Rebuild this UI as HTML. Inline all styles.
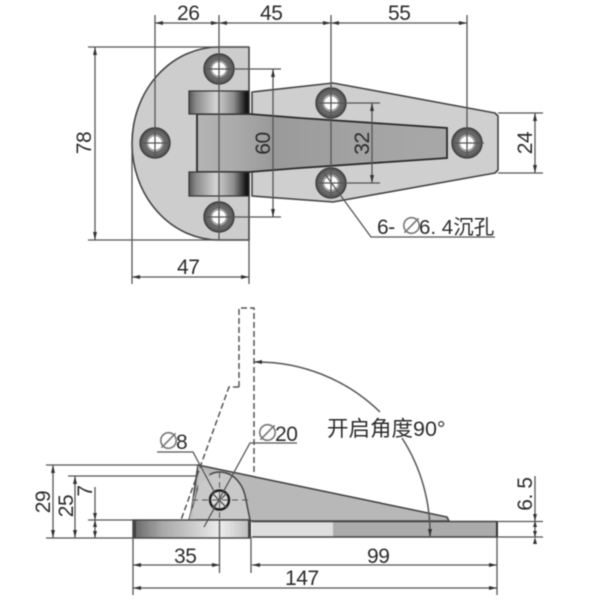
<!DOCTYPE html>
<html>
<head>
<meta charset="utf-8">
<style>
html,body{margin:0;padding:0;background:#fff;width:600px;height:600px;overflow:hidden}
svg{display:block;filter:blur(0.45px)}
text{font-family:"Liberation Sans","Noto Sans CJK SC",sans-serif;fill:#2c2c2c;font-size:21px;letter-spacing:-.4px}
.d{stroke:#555;stroke-width:1.3;fill:none}
.o{stroke:#444;stroke-width:1.6;stroke-linejoin:round}
.da{stroke:#555;stroke-width:1.5;fill:none;stroke-dasharray:6 3}
.p{fill:#777;font-size:23px}
</style>
</head>
<body>
<svg width="600" height="600" viewBox="0 0 600 600" xmlns="http://www.w3.org/2000/svg">
<defs>
<linearGradient id="kn" x1="0" x2="1" y1="0" y2="0">
<stop offset="0" stop-color="#555"/><stop offset=".12" stop-color="#8a8a8a"/><stop offset=".45" stop-color="#d4d4d4"/><stop offset=".75" stop-color="#8c8c8c"/><stop offset=".95" stop-color="#151515"/><stop offset="1" stop-color="#111"/>
</linearGradient>
<linearGradient id="lf" x1="0" x2="1" y1="0" y2="0">
<stop offset="0" stop-color="#b4b4b4"/><stop offset=".15" stop-color="#ababab"/><stop offset=".3" stop-color="#9a9a9a"/><stop offset=".7" stop-color="#a4a4a4"/><stop offset="1" stop-color="#a8a8a8"/>
</linearGradient>
<linearGradient id="pl" x1="0" x2="1" y1="0" y2="0">
<stop offset="0" stop-color="#666"/><stop offset=".25" stop-color="#a8a8a8"/><stop offset=".75" stop-color="#ececec"/><stop offset="1" stop-color="#bdbdbd"/>
</linearGradient>
<radialGradient id="h"><stop offset=".4" stop-color="#aaa"/><stop offset=".62" stop-color="#8a8a8a"/><stop offset=".75" stop-color="#666"/><stop offset="1" stop-color="#555"/></radialGradient>
<g id="hole">
<circle r="15" fill="url(#h)" stroke="#3d3d3d" stroke-width="1.4"/>
<circle r="9.5" fill="#999" stroke="#555" stroke-width="1"/>
<circle r="6.800" fill="#fff"/>
</g>
</defs>

<!-- TOP VIEW -->
<path class="o" fill="#cfcfcf" d="M252 92 L333 83 L495 113 L498 116 L498 170 L495 173 L333 202 L252 196 Z"/>
<path class="o" fill="#cdcdcd" d="M219 47 L249 47 L249 240 L219 240 A87 96.500 0 0 1 219 47 Z"/>
<path fill="url(#lf)" stroke="#2a2a2a" stroke-width="1.800" d="M197 114 L249 114 L300 118 L447 128 L447 158 L300 168 L249 172 L197 172 Z"/>
<rect x="189" y="91" width="60" height="23" fill="url(#kn)" stroke="#333" stroke-width="1.200"/>
<rect x="189" y="172" width="60" height="24" fill="url(#kn)" stroke="#333" stroke-width="1.200"/>
<use href="#hole" x="219" y="69"/>
<use href="#hole" x="155" y="143"/>
<use href="#hole" x="219" y="217"/>
<use href="#hole" x="331" y="103"/>
<use href="#hole" x="467" y="143"/>
<use href="#hole" x="331" y="183"/>

<g class="d">
<path d="M155 15V158M219 15V240M331 15V198M467 15V158"/>
<path d="M155 23H467"/>
<path d="M88 47H249M88 240H249M95 47V240"/>
<path d="M132 143V284M249 240V284M132 277H249"/>
<path d="M204 69H281M204 217H281M273 69V217"/>
<path d="M316 103H380M316 183H380M372 103V183"/>
<path d="M498 113H543M498 173H543M535 113V173"/>
<path d="M322 170L371 237H495"/>
<path d="M140 143H170M452 143H484"/>
</g>
<g fill="#333">
<path d="M155 23l8-2v4zM219 23l-8-2v4zM219 23l8-2v4zM331 23l-8-2v4zM331 23l8-2v4zM467 23l-8-2v4z"/>
<path d="M95 47l-2 8h4zM95 240l-2-8h4z"/>
<path d="M132 277l8-2v4zM249 277l-8-2v4z"/>
<path d="M273 69l-2 8h4zM273 217l-2-8h4z"/>
<path d="M372 103l-2 8h4zM372 183l-2-8h4z"/>
<path d="M535 113l-2 8h4zM535 173l-2-8h4z"/>
</g>

<text x="177" y="20">26</text>
<text x="260" y="20">45</text>
<text x="388" y="20">55</text>
<text x="177" y="274">47</text>
<text transform="translate(91 143) rotate(-90)" text-anchor="middle">78</text>
<text transform="translate(270 143.500) rotate(-90)" text-anchor="middle">60</text>
<text transform="translate(369 143.500) rotate(-90)" text-anchor="middle">32</text>
<text transform="translate(532 143) rotate(-90)" text-anchor="middle">24</text>
<text x="377" y="234">6-</text>
<text x="400" y="234" class="p">∅</text>
<text x="419" y="234" style="font-size:20.500px;letter-spacing:0">6. 4沉孔</text>

<!-- BOTTOM VIEW -->
<path class="o" fill="#b8b8b8" d="M198 465 L447 517 L449 521 L250 521 L190 521 Z"/>
<path fill="#c9c9c9" stroke="#444" stroke-width="1.500" d="M189 520 L198 486 C204 477 212 472 219 472 C235 472 244 486 246 500 L250 520 Z"/>
<path fill="#c4c4c4" stroke="none" d="M198 466 L198 486 L189 520 L196 520 C190 510 190 490 210 475 Z"/>
<rect x="133" y="520" width="117" height="18" fill="url(#pl)" stroke="#444" stroke-width="1.400"/>
<rect x="133" y="520" width="3" height="18" fill="#444"/>
<rect x="248" y="520" width="3" height="18" fill="#444"/>
<rect x="252" y="521" width="81" height="16" fill="#dedede"/>
<rect x="333" y="521" width="164" height="16" fill="#ababab"/>
<path stroke="#444" stroke-width="1.500" d="M252 521.500H497M252 537H497" fill="none"/>
<path stroke="#333" stroke-width="2" d="M497 521V537" fill="none"/>
<circle cx="219.500" cy="500" r="9.500" fill="#ddd" stroke="#1c1c1c" stroke-width="2.400"/>
<path class="d" d="M212 493l15 15M227 493l-15 15"/>

<path class="da" d="M239 387V308H254V475M239 387H229L181 520"/>
<path d="M192 500H250M219.500 472V520" stroke="#555" stroke-width="1" stroke-dasharray="6 4" fill="none"/>

<g class="d">
<path d="M157 452H193L215 493"/>
<path d="M297 443H250L204 527"/>
<path d="M46 465H198M68 476H198M88 520H133M46 538H133"/>
<path d="M53 465V538M75 476V538M95 487V538"/>
<path d="M133 538V595M497 537V595M219.500 520V573M251 537V573"/>
<path d="M133 565H220M252 565H497M133 588H497"/>
<path d="M497 521.500H543M497 537H543M535 476V537"/>
<path d="M254 362A176 176 0 0 1 380 412M402 438A176 176 0 0 1 430 537" stroke-width="1.500"/>
</g>
<g fill="#333">
<path d="M53 465l-2 8h4zM53 538l-2-8h4z"/>
<path d="M75 476l-2 8h4zM75 538l-2-8h4z"/>
<path d="M95 520l-2 7h4zM95 538l-2-7h4zM95 520l-2-7h4z"/>
<path d="M133 565l8-2v4zM220 565l-8-2v4zM252 565l8-2v4zM497 565l-8-2v4z"/>
<path d="M133 588l8-2v4zM497 588l-8-2v4z"/>
<path d="M535 521l-2-7h4zM535 537l-2 7h4zM535 521l-2 6h4zM535 537l-2-6h4z"/>
<path d="M254 362l8-2v4zM430 537l-2-8h4z"/>
</g>

<text x="174" y="563">35</text>
<text x="367" y="563">99</text>
<text x="285" y="585">147</text>
<text transform="translate(50 502) rotate(-90)" text-anchor="middle">29</text>
<text transform="translate(73 506) rotate(-90)" text-anchor="middle">25</text>
<text transform="translate(92 491) rotate(-90)" text-anchor="middle">7</text>
<text transform="translate(532 494) rotate(-90)" text-anchor="middle">6. 5</text>
<text x="157" y="449" class="p">∅</text>
<text x="176" y="449">8</text>
<text x="256" y="441" class="p">∅</text>
<text x="275" y="441">20</text>
<text x="327" y="436" style="font-size:21.500px;letter-spacing:0">开启角度90°</text>
</svg>
</body>
</html>
